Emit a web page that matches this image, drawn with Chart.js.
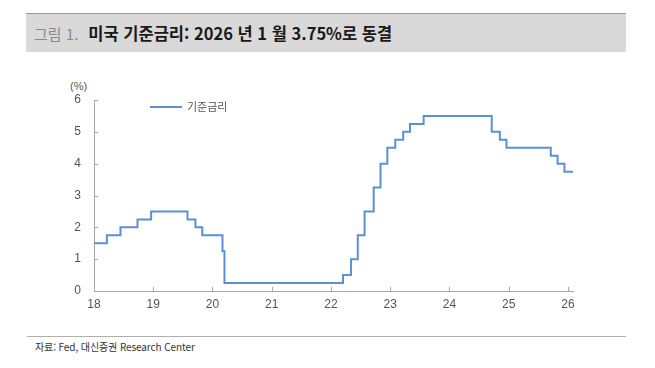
<!DOCTYPE html>
<html lang="ko">
<head>
<meta charset="utf-8">
<title>미국 기준금리</title>
<script src="https://cdn.jsdelivr.net/npm/chart.js@4"></script>
<style>
  html, body { margin: 0; padding: 0; background: #fff; }
  body { width: 655px; height: 368px; position: relative; overflow: hidden;
         font-family: "Noto Sans CJK KR", "Liberation Sans", sans-serif; }
  #band { position: absolute; left: 26px; top: 13px; width: 600px; height: 38px;
          background: #d9d9d9; border-top: 1px solid #7d9ec2; }
  #title { position: absolute; left: 34px; top: 22px; font-size: 16.5px; line-height: 22px;
           white-space: nowrap; color: #1a1a1a; font-weight: bold; }
  #title .num { color: #8a8a8a; font-weight: normal; font-size: 15px; margin-right: 10px; }
  #unit { position: absolute; left: 70px; top: 80px; font-size: 11px; color: #555;
          font-family: "Liberation Sans", sans-serif; }
  #foot { position: absolute; left: 27px; top: 336px; width: 599px; border-top: 1px solid #b0b0b0; }
  #src { position: absolute; left: 35px; top: 339px; font-size: 10px; color: #333;
         letter-spacing: -0.1px; white-space: nowrap; }
  #wrap { position: absolute; left: 0; top: 0; width: 655px; height: 368px; }
</style>
</head>
<body>
<div id="band"></div>
<div id="title"><span class="num">그림 1.</span>미국 기준금리: 2026 년 1 월 3.75%로 동결</div>
<div id="unit">(%)</div>
<div id="foot"></div>
<div id="src">자료: Fed, 대신증권 Research Center</div>
<div id="wrap"><canvas id="chart"></canvas></div>
<script>
// policy rate changes (year as YY + fraction, upper bound %)
var rateDates  = [18.0, 18.217, 18.447, 18.734, 18.964, 19.578, 19.712, 19.827, 20.169, 20.202,
                  22.203, 22.337, 22.452, 22.567, 22.721, 22.836, 22.951, 23.085, 23.219, 23.334,
                  23.564, 24.713, 24.850, 24.962, 25.710, 25.825, 25.940, 26.085];
var rateValues = [1.5, 1.75, 2.0, 2.25, 2.5, 2.25, 2.0, 1.75, 1.25, 0.25,
                  0.5, 1.0, 1.75, 2.5, 3.25, 4.0, 4.5, 4.75, 5.0, 5.25,
                  5.5, 5.0, 4.75, 4.5, 4.25, 4.0, 3.75, 3.75];
var xTicks = [18, 19, 20, 21, 22, 23, 24, 25, 26];
var yTicks = [0, 1, 2, 3, 4, 5, 6];
var seriesLabel = '기준금리';

var AXIS_COLOR = '#a6a6a6';
var LINE_COLOR = '#5b8fd6';

var points = rateDates.map(function (d, i) { return { x: d, y: rateValues[i] }; });

// small tick marks pointing into the plot
var innerTicks = {
    id: 'innerTicks',
    afterDraw: function (chart) {
        var ctx = chart.ctx, a = chart.chartArea;
        ctx.save();
        ctx.strokeStyle = AXIS_COLOR;
        ctx.lineWidth = 1;
        ctx.beginPath();
        chart.scales.x.ticks.forEach(function (t) {
            var px = Math.round(chart.scales.x.getPixelForValue(t.value)) + 0.5;
            ctx.moveTo(px, a.bottom);
            ctx.lineTo(px, a.bottom - 4);
        });
        chart.scales.y.ticks.forEach(function (t) {
            var py = Math.round(chart.scales.y.getPixelForValue(t.value)) + 0.5;
            ctx.moveTo(a.left, py);
            ctx.lineTo(a.left + 4, py);
        });
        ctx.stroke();
        ctx.restore();
    }
};

// legend drawn inside the plot area
var insideLegend = {
    id: 'insideLegend',
    afterDraw: function (chart) {
        var ds = chart.data.datasets[0];
        var ctx = chart.ctx;
        ctx.save();
        ctx.strokeStyle = ds.borderColor;
        ctx.lineWidth = 2;
        ctx.beginPath();
        ctx.moveTo(150, 107);
        ctx.lineTo(182, 107);
        ctx.stroke();
        ctx.fillStyle = '#555';
        ctx.font = '11px "Noto Sans CJK KR"';
        ctx.textBaseline = 'middle';
        ctx.fillText(ds.label, 187, 107);
        ctx.restore();
    }
};

new Chart(document.getElementById('chart'), {
    type: 'line',
    data: {
        datasets: [
            { label: seriesLabel, data: points, stepped: true, borderColor: LINE_COLOR,
              borderWidth: 2, pointRadius: 0, fill: false }
        ]
    },
    options: {
        responsive: true,
        maintainAspectRatio: false,
        animation: false,
        layout: { padding: { left: 54, right: 82, top: 100, bottom: 57 } },
        plugins: { legend: { display: false }, tooltip: { enabled: false } },
        scales: {
            x: {
                type: 'linear',
                min: 18,
                max: 26.085,
                afterBuildTicks: function (s) { s.ticks = xTicks.map(function (v) { return { value: v }; }); },
                afterFit: function (s) { s.height = 20; },
                grid: { display: true, drawOnChartArea: false, drawTicks: false },
                border: { color: AXIS_COLOR, width: 1 },
                ticks: { color: '#555', padding: 6, maxRotation: 0,
                         font: { family: '"Liberation Sans"', size: 12 } }
            },
            y: {
                min: 0,
                max: 6,
                afterBuildTicks: function (s) { s.ticks = yTicks.map(function (v) { return { value: v }; }); },
                afterFit: function (s) { s.width = 40; },
                grid: { display: true, drawOnChartArea: false, drawTicks: false },
                border: { color: AXIS_COLOR, width: 1 },
                ticks: { color: '#555', padding: 13,
                         font: { family: '"Liberation Sans"', size: 12 } }
            }
        }
    },
    plugins: [innerTicks, insideLegend]
});
</script>
</body>
</html>
